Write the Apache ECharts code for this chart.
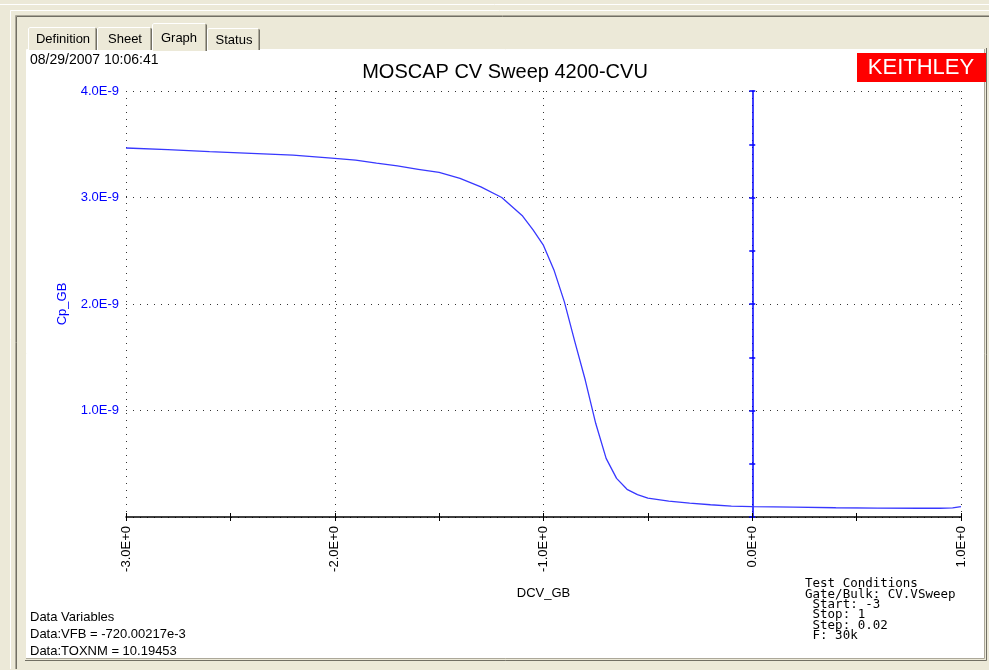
<!DOCTYPE html>
<html><head><meta charset="utf-8">
<script src="https://cdn.jsdelivr.net/npm/echarts@6.0.0/dist/echarts.min.js"></script>
<style>html,body{margin:0;padding:0;background:#ECE9D8}#c{width:989px;height:670px}</style>
</head><body><div id="c"></div><script>
// DC gate-bulk voltage (V)
const voltage = [-3.0,-2.8,-2.6,-2.4,-2.2,-2.0,-1.9,-1.8,-1.7,-1.6,-1.5,-1.4,-1.3,-1.2,-1.1,-1.05,-1.0,-0.95,-0.9,-0.85,-0.8,-0.75,-0.7,-0.65,-0.6,-0.55,-0.5,-0.4,-0.3,-0.2,-0.1,0.0,0.2,0.4,0.6,0.8,0.9,0.96,1.0];
// Capacitance Cp_GB (F)
const capacitance = [3.465e-9,3.45e-9,3.43e-9,3.415e-9,3.398e-9,3.368e-9,3.35e-9,3.322e-9,3.296e-9,3.265e-9,3.235e-9,3.18e-9,3.10e-9,3.00e-9,2.826e-9,2.695e-9,2.55e-9,2.32e-9,2.02e-9,1.646e-9,1.286e-9,0.88e-9,0.55e-9,0.363e-9,0.26e-9,0.21e-9,0.178e-9,0.15e-9,0.13e-9,0.115e-9,0.103e-9,0.097e-9,0.092e-9,0.087e-9,0.083e-9,0.082e-9,0.082e-9,0.085e-9,0.097e-9];
const tabs = ['Definition','Sheet','Graph','Status'];
const title = 'MOSCAP CV Sweep 4200-CVU';
const timestamp = '08/29/2007 10:06:41';
const dataVariables = ['Data Variables','Data:VFB = -720.00217e-3','Data:TOXNM = 10.19453'];
const testConditions = ['Test Conditions','Gate/Bulk: CV.VSweep',' Start: -3',' Stop: 1',' Step: 0.02',' F: 30k'];

const chart = echarts.init(document.getElementById('c'), null, {renderer:'canvas'});
const SANS = '"Liberation Sans", Arial, sans-serif';
const MONO = '"DejaVu Sans Mono", "Liberation Mono", monospace';

const tabBoxes = [
  {x:28, y:27, w:69, h:23, tx:63},
  {x:97, y:27, w:55, h:23, tx:125},
  {x:152, y:23, w:55, h:28, tx:179},
  {x:207, y:28, w:53, h:22, tx:234}
];
const graphics = [
  {type:'line', shape:{x1:0,y1:4.5,x2:989,y2:4.5}, style:{stroke:'#ffffff',lineWidth:1}, z:-100},
  {type:'polyline', shape:{points:[[10.5,669],[10.5,10.5],[989,10.5]]}, style:{stroke:'#ffffff',fill:null,lineWidth:1}, z:-100},
  {type:'polyline', shape:{points:[[15.5,669],[15.5,15.5],[989,15.5]]}, style:{stroke:'#ACA899',fill:null,lineWidth:1}, z:-100},
  {type:'polyline', shape:{points:[[16.5,669],[16.5,16.5],[989,16.5]]}, style:{stroke:'#716F64',fill:null,lineWidth:1}, z:-100},
  {type:'rect', shape:{x:27,y:50,width:957,height:608}, style:{fill:'#ffffff',stroke:null}, z:-100},
  {type:'polyline', shape:{points:[[26.5,658],[26.5,49.5],[984,49.5]]}, style:{stroke:'#ffffff',fill:null,lineWidth:1}, z:-99},
  {type:'polyline', shape:{points:[[26,658.5],[984.5,658.5],[984.5,49]]}, style:{stroke:'#ACA899',fill:null,lineWidth:1}, z:-99},
  {type:'polyline', shape:{points:[[25,660.5],[986.5,660.5],[986.5,48]]}, style:{stroke:'#716F64',fill:null,lineWidth:1}, z:-99},
  {type:'text', left:30, top:53, style:{text:timestamp, font:'14px '+SANS, fill:'#000'}},
  {type:'text', style:{text:title, x:505, y:72, align:'center', verticalAlign:'middle', font:'20px '+SANS, fill:'#000'}},
  {type:'rect', shape:{x:857,y:53,width:129,height:29}, style:{fill:'#ff0000'}},
  {type:'text', style:{text:'KEITHLEY', x:921, y:68, align:'center', verticalAlign:'middle', font:'22px '+SANS, fill:'#ffffff'}}
];
tabs.forEach((t,i)=>{
  const b = tabBoxes[i];
  graphics.push({type:'rect', shape:{x:b.x,y:b.y,width:b.w,height:b.h}, style:{fill:'#ECE9D8'}, z:-98});
  graphics.push({type:'polyline', shape:{points:[[b.x+0.5,b.y+b.h],[b.x+0.5,b.y+1.5],[b.x+2,b.y+0.5],[b.x+b.w-2,b.y+0.5]]}, style:{stroke:'#ffffff',fill:null,lineWidth:1}, z:-97});
  graphics.push({type:'polyline', shape:{points:[[b.x+b.w-1.5,b.y+1],[b.x+b.w-0.5,b.y+2],[b.x+b.w-0.5,b.y+b.h]]}, style:{stroke:'#716F64',fill:null,lineWidth:1}, z:-97});
  graphics.push({type:'line', shape:{x1:b.x+b.w-1.5,y1:b.y+2,x2:b.x+b.w-1.5,y2:b.y+b.h}, style:{stroke:'#ACA899',lineWidth:1}, z:-97});
  graphics.push({type:'text', style:{text:t, x:b.tx, y:b.y+b.h/2+1, align:'center', verticalAlign:'middle', font:'13px '+SANS, fill:'#000'}, z:-96});
});
dataVariables.forEach((t,i)=>{
  graphics.push({type:'text', style:{text:t, x:30, y:617+i*17, verticalAlign:'middle', font:'13px '+SANS, fill:'#000'}});
});
testConditions.forEach((t,i)=>{
  graphics.push({type:'text', style:{text:t, x:805, y:584+i*10.4, verticalAlign:'middle', font:'12.5px '+MONO, fill:'#000'}});
});

const dotted = {type:[1,6], color:'#333', width:1};
const xCommon = {type:'value', min:-3, max:1, position:'bottom'};
const yCommon = {type:'value', min:0, max:4e-9};
chart.setOption({
  animation:false,
  backgroundColor:'#ECE9D8',
  grid:{left:126, right:28, top:91, bottom:153, containLabel:false},
  graphic:graphics,
  xAxis:[
    Object.assign({}, xCommon, {interval:1,
      name:'DCV_GB', nameLocation:'middle', nameGap:70,
      nameTextStyle:{color:'#000', fontSize:13, fontFamily:SANS, verticalAlign:'top'},
      axisLine:{show:true, lineStyle:{color:'#000', width:1.5}},
      axisTick:{show:false},
      axisLabel:{show:true, rotate:90, margin:9, color:'#000', fontSize:13, fontFamily:SANS,
        showMinLabel:true, showMaxLabel:true,
        formatter:v=>v.toFixed(1)+'E+0'},
      splitLine:{show:true, lineStyle:dotted}}),
    Object.assign({}, xCommon, {interval:0.5,
      axisLine:{show:false}, axisLabel:{show:false}, splitLine:{show:false},
      axisTick:{show:true, inside:false, length:4, lineStyle:{color:'#000'}}}),
    Object.assign({}, xCommon, {interval:0.5,
      axisLine:{show:false}, axisLabel:{show:false}, splitLine:{show:false},
      axisTick:{show:true, inside:true, length:4, lineStyle:{color:'#000'}}})
  ],
  yAxis:[
    Object.assign({}, yCommon, {interval:1e-9, position:'left',
      name:'Cp_GB', nameLocation:'middle', nameGap:57,
      nameTextStyle:{color:'#0000ff', fontSize:13, fontFamily:SANS},
      axisLine:{show:false, onZero:false}, axisTick:{show:false},
      axisLabel:{show:true, margin:7, color:'#0000ff', fontSize:13, fontFamily:SANS,
        formatter:v=> v===0 ? '' : (v*1e9).toFixed(1)+'E-9'},
      splitLine:{show:true, lineStyle:dotted}}),
    Object.assign({}, yCommon, {interval:0.5e-9, position:'left',
      axisLine:{show:true, onZero:true, onZeroAxisIndex:0, lineStyle:{color:'#0000ff', width:1.5}},
      axisTick:{show:true, inside:false, length:3, lineStyle:{color:'#0000ff', width:1.5}},
      axisLabel:{show:false}, splitLine:{show:false}}),
    Object.assign({}, yCommon, {interval:0.5e-9, position:'left',
      axisLine:{show:false, onZero:true, onZeroAxisIndex:0},
      axisTick:{show:true, inside:true, length:3, lineStyle:{color:'#0000ff', width:1.5}},
      axisLabel:{show:false}, splitLine:{show:false}})
  ],
  series:[{
    type:'line', xAxisIndex:0, yAxisIndex:0,
    data: voltage.map((v,i)=>[v, capacitance[i]]),
    showSymbol:false, symbol:'none',
    lineStyle:{color:'#3838ff', width:1.3}
  }]
});
</script></body></html>
